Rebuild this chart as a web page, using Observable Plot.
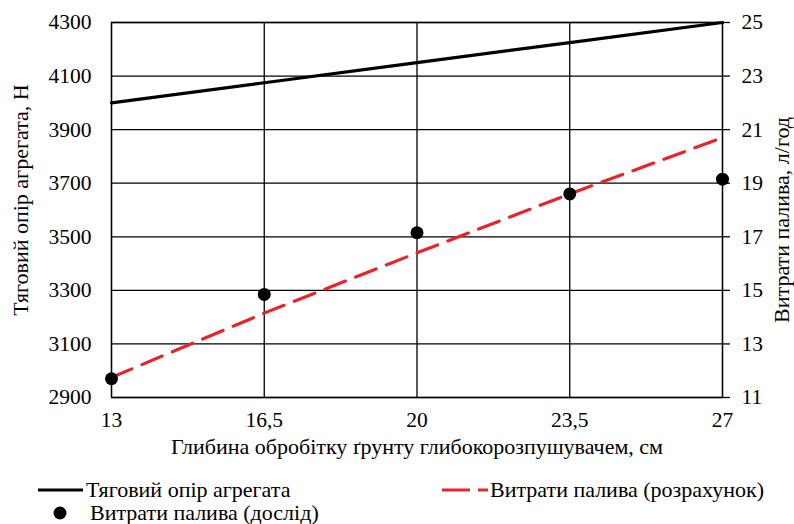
<!DOCTYPE html>
<html>
<head>
<meta charset="utf-8">
<script src="https://cdn.jsdelivr.net/npm/d3@7"></script>
<script src="https://cdn.jsdelivr.net/npm/@observablehq/plot@0.6"></script>
<style>
  html, body { margin: 0; padding: 0; background: #fff; }
  body { width: 794px; height: 524px; overflow: hidden; font-family: "Liberation Serif", "Times New Roman", serif; }
  #legend { position: relative; width: 794px; height: 54px; font-size: 22px; color: #000; }
  .item { position: absolute; display: flex; align-items: center; white-space: nowrap; }
  .item svg { display: block; }
</style>
</head>
<body>
<div id="chart"></div>
<div id="legend">
  <div class="item" style="left:38px; top:7px;">
    <svg width="48" height="22"><line x1="0" x2="45" y1="11" y2="11" stroke="#000" stroke-width="3"/></svg>
    <span>Тяговий опір агрегата</span>
  </div>
  <div class="item" style="left:442px; top:7px;">
    <svg width="48" height="22"><line x1="0" x2="46" y1="11" y2="11" stroke="#e8232a" stroke-width="3" stroke-dasharray="28,8"/></svg>
    <span>Витрати палива (розрахунок)</span>
  </div>
  <div class="item" style="left:52px; top:30px;">
    <svg width="38" height="22"><circle cx="8" cy="11" r="6.5" fill="#000"/></svg>
    <span>Витрати палива (дослід)</span>
  </div>
</div>
<script>
// Data
const depth = [13, 16.5, 20, 23.5, 27];                 // cm
const resistance = [4000, 4075, 4150, 4225, 4300];      // N (left axis)
const fuelCalc = [11.75, 14.15, 16.4, 18.6, 20.7];      // l/h (right axis, calculated)
const fuelExp = [11.7, 14.85, 17.15, 18.6, 19.15];      // l/h (right axis, experiment)
const leftTicks = [2900, 3100, 3300, 3500, 3700, 3900, 4100, 4300];
const rightTicks = [11, 13, 15, 17, 19, 21, 23, 25];

const toLeft = d3.scaleLinear([11, 25], [2900, 4300]);
const rows = depth.map((d, i) => ({
  depth: d,
  resistance: resistance[i],
  calc: toLeft(fuelCalc[i]),
  exp: toLeft(fuelExp[i])
}));
const rightLabel = new Map(leftTicks.map((t, i) => [t, rightTicks[i]]));

const chart = Plot.plot({
  width: 794,
  height: 470,
  marginLeft: 111,
  marginRight: 72,
  marginTop: 22,
  marginBottom: 73,
  x: { domain: [13, 27] },
  y: { domain: [2900, 4300] },
  style: { fontFamily: "Liberation Serif", fontSize: "21.5px", color: "#000", background: "#fff" },
  marks: [
    Plot.gridX(depth, { stroke: "#000", strokeOpacity: 1, strokeWidth: 1.3 }),
    Plot.gridY(leftTicks, { stroke: "#000", strokeOpacity: 1, strokeWidth: 1.3 }),
    Plot.frame({ stroke: "#000", strokeWidth: 1.3 }),
    Plot.axisX(depth, { tickSize: 0, tickPadding: 14, tickFormat: d => String(d).replace(".", ","), label: null, fontSize: 21.5 }),
    Plot.axisY(leftTicks, { anchor: "left", tickSize: 0, tickPadding: 20, label: null, fontSize: 21.5, tickFormat: d => String(d) }),
    Plot.axisY(leftTicks, { anchor: "right", tickSize: 7, tickPadding: 12, strokeWidth: 1.3, label: null, fontSize: 21.5, tickFormat: d => String(rightLabel.get(d)) }),
    Plot.line(rows, { x: "depth", y: "resistance", stroke: "#000", strokeWidth: 3.2 }),
    Plot.line(rows, { x: "depth", y: "calc", stroke: "#e8232a", strokeWidth: 3.2, strokeDasharray: "22,11" }),
    Plot.dot(rows, { x: "depth", y: "exp", r: 6.5, fill: "#000", stroke: "none" }),
    Plot.text(["Тяговий опір агрегата, Н"], { frameAnchor: "left", textAnchor: "middle", dx: -91, dy: -10, rotate: -90, fontSize: 22, fill: "#000" }),
    Plot.text(["Витрати палива, л/год"], { frameAnchor: "right", textAnchor: "middle", dx: 59, dy: 10, rotate: -90, fontSize: 22, fill: "#000" }),
    Plot.text(["Глибина обробітку ґрунту глибокорозпушувачем, см"], { frameAnchor: "bottom", dy: 56, fontSize: 22, fill: "#000" })
  ]
});
document.getElementById("chart").appendChild(chart);
</script>
</body>
</html>
